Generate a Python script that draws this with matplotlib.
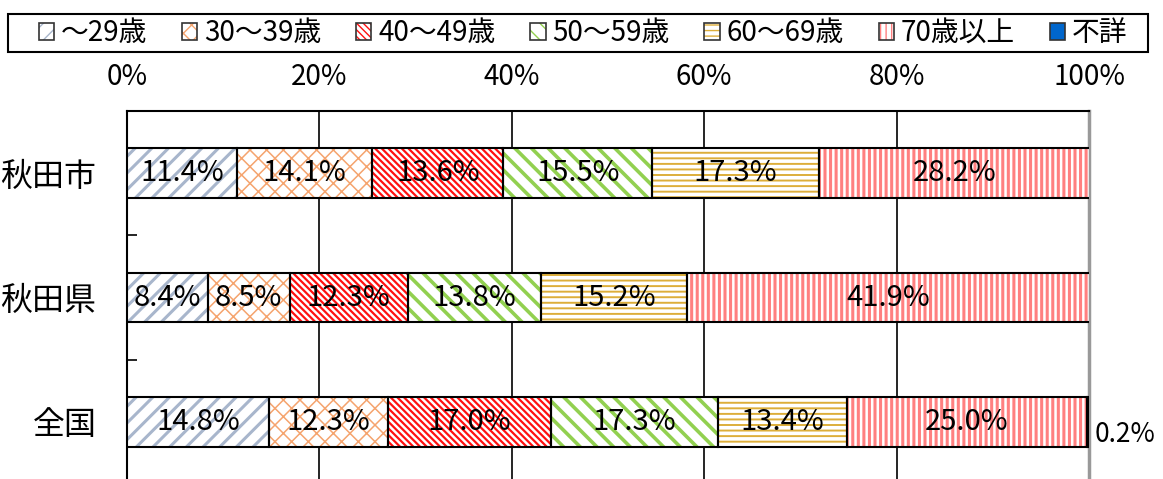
"""Stacked horizontal bar chart: age composition (秋田市 / 秋田県 / 全国)."""
import matplotlib
matplotlib.use("Agg")
import matplotlib.pyplot as plt
from matplotlib.legend_handler import HandlerTuple
from matplotlib.patches import Rectangle
import numpy as np

plt.rcParams["font.family"] = ["Noto Sans CJK JP", "DejaVu Sans"]

regions = ["秋田市", "秋田県", "全国"]
age_groups = ["〜29歳", "30〜39歳", "40〜49歳", "50〜59歳", "60〜69歳", "70歳以上", "不詳"]
values = np.array([
    [11.4, 14.1, 13.6, 15.5, 17.3, 28.2, 0.0],
    [8.4, 8.5, 12.3, 13.8, 15.2, 41.9, 0.0],
    [14.8, 12.3, 17.0, 17.3, 13.4, 25.0, 0.2],
])
x_ticks = [0, 20, 40, 60, 80, 100]

# hatch colour / pattern / line width / fill for each age group
hatch_colors = ["#A8B6CC", "#F5A46E", "#FF1010", "#92D050", "#DDAE3A", "#FF8080", "#0066CC"]
hatches = ["//", "xx", "\\\\\\\\\\", "\\\\", "---", "|||", None]
hatch_lws = [2.2, 1.1, 1.6, 2.6, 1.4, 2.2, 1.0]
fills = ["white", "white", "white", "white", "white", "white", "#0066CC"]

fig = plt.figure(figsize=(11.63, 4.79), dpi=100)
ax = fig.add_axes([127 / 1163, -5 / 479, 962 / 1163, 373 / 479])

y = np.arange(len(regions))
left = np.zeros(len(regions))
bar_h = 0.40
handles = []
for k, name in enumerate(age_groups):
    vals = values[:, k]
    plt.rcParams["hatch.linewidth"] = hatch_lws[k]
    ax.barh(y, vals, left=left, height=bar_h, color=fills[k], edgecolor=hatch_colors[k],
            hatch=hatches[k], linewidth=0, zorder=3)
    ax.barh(y, vals, left=left, height=bar_h, fill=False, edgecolor="black",
            linewidth=1.5, zorder=4)
    for i, v in enumerate(vals):
        if v >= 1:
            ax.text(left[i] + v / 2, y[i], f"{v:.1f}%", ha="center", va="center",
                    fontsize=21, zorder=5)
        elif v > 0:
            ax.text(left[i] + v + 0.6, y[i] + 0.1, f"{v:.1f}%", ha="left", va="center",
                    fontsize=19, zorder=5, clip_on=False)
    left += vals
    h1 = Rectangle((0, 0), 1, 1, facecolor=fills[k], edgecolor=hatch_colors[k],
                   hatch=hatches[k], linewidth=0)
    h2 = Rectangle((0, 0), 1, 1, fill=False, edgecolor="#333333", linewidth=1.2)
    handles.append((h1, h2))

ax.set_xlim(0, 100)
ax.set_ylim(2.5, -0.5)
ax.set_xticks(x_ticks)
ax.set_xticklabels([f"{t}%" for t in x_ticks])
ax.xaxis.tick_top()
ax.tick_params(axis="x", length=0, pad=14, labelsize=20)
ax.set_yticks(y)
ax.set_yticklabels(regions)
ax.tick_params(axis="y", which="major", length=0, pad=22, labelsize=23)
ax.set_yticks([0.5, 1.5], minor=True)
ax.tick_params(axis="y", which="minor", direction="in", length=7, width=1.2)

for xv in x_ticks[1:-1]:
    ax.axvline(xv, color="black", linewidth=1.2, zorder=1)

ax.spines["left"].set_linewidth(1.5)
ax.spines["top"].set_linewidth(1.5)
ax.spines["right"].set_color("#999999")
ax.spines["right"].set_linewidth(2.5)
ax.spines["bottom"].set_visible(False)

# legend: entries centred, frame drawn separately to span the full width
fig.legend(handles, age_groups, loc="center", bbox_to_anchor=(583 / 1163, 1 - 33 / 479),
           ncol=7, fontsize=20, frameon=False, handlelength=0.55, handleheight=0.55,
           handletextpad=0.25, columnspacing=1.25,
           handler_map={tuple: HandlerTuple(ndivide=1)})
fig.patches.append(Rectangle((8 / 1163, 1 - 52 / 479), 1140 / 1163, 38 / 479,
                             transform=fig.transFigure, fill=False, edgecolor="black",
                             linewidth=1.5))

fig.savefig("out.png", dpi=100)
plt.close(fig)
